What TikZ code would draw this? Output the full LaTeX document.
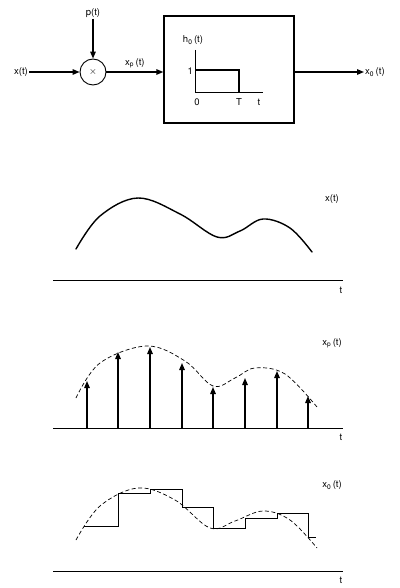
\documentclass[tikz,border=0pt]{standalone}
\usepackage{fontspec}
\setmainfont{TeX Gyre Heros}
\usepackage{tikz}
\usetikzlibrary{positioning, arrows.meta}

\begin{document}
\begin{tikzpicture}[
    x=1pt, y=-1pt,
    >={Triangle[length=7pt, width=5.5pt]},
    lbl/.style={font=\fontsize{9.5}{11}\selectfont, inner sep=1pt},
    sig/.style={->, line width=1.3pt},
    wave/.style={line width=1.4pt, line cap=round},
    guide/.style={dashed, dash pattern=on 4pt off 2.5pt, line width=0.7pt},
    axis/.style={line width=0.6pt},
    sample/.style={->, line width=1.4pt},
    hold/.style={line width=1pt},
]
\useasboundingbox (0,0) rectangle (399,588);

% block diagram
\node[lbl] (xin) at (21,72) {x(t)};
\node[draw, circle, line width=0.9pt, minimum size=26pt, inner sep=0pt] (mult) at (93,72) {$\times$};
\node[lbl] (pin) at (93,13) {p(t)};
\node[draw, line width=1.3pt, minimum width=130pt, minimum height=107pt] (zoh) at (229,69.5) {};
\node[lbl, anchor=west] (xout) at (364,72) {x\textsubscript{0}\,(t)};

\draw[sig] (xin) -- (mult);
\draw[sig] (pin) -- (mult);
\draw[sig] (mult) -- (zoh.west |- mult) node[midway, above, lbl, yshift=2pt] {x\textsubscript{p}\,(t)};
\draw[sig] (zoh.east |- mult) -- (xout);

% impulse response inside the hold box
\coordinate (o) at (195,92);
\draw[axis] (195,50) -- (o) -- (263,92);
\draw[line width=1.3pt] (o |- 0,70) -- (239,70) -- (239,92);
\node[lbl] (hlbl) at (193,40) {h\textsubscript{0}\,(t)};
\node[lbl, anchor=east] (one) at (194,71) {1};
\node[lbl] (zero) at (197,102) {0};
\node[lbl] (tT) at (239,102) {T};
\node[lbl] (tt) at (259,102) {t};

% x(t)
\draw[axis] (53,280) -- (343,280);
\node[lbl] (t1) at (341,290) {t};
\node[lbl] (x1) at (332,199) {x(t)};
\draw[wave] plot[smooth, tension=0.6] coordinates {(76,249) (100,216) (138,198) (180,214) (217,237) (240,231) (263,219) (290,228) (312,252)};

% x_p(t)
\draw[axis] (53,428) -- (343,428);
\node[lbl] (t2) at (341,437) {t};
\node[lbl] (x2) at (332,343) {x\textsubscript{p}\,(t)};
\draw[guide] plot[smooth, tension=0.6] coordinates {(76,398) (100,363) (147,346) (185,361) (213,386) (235,378) (255,368) (285,374) (317,407)};
\foreach \xs/\ys in {87/381, 118/352, 150/347, 182/363, 213/387, 245/378, 277/371, 308/396}
    \draw[sample] (\xs,428) -- (\xs,\ys);

% x_0(t)
\draw[axis] (53,571) -- (343,571);
\node[lbl] (t3) at (341,580) {t};
\node[lbl] (x3) at (332,485) {x\textsubscript{0}\,(t)};
\draw[guide] plot[smooth, tension=0.6] coordinates {(76,540) (100,506) (138,488) (175,500) (210,528) (235,521) (263,511) (290,520) (317,548)};
\draw[hold] (84,526) -- (118,526) -- (118,493) -- (150,493) -- (150,489) -- (182,489)
    -- (182,507) -- (213,507) -- (213,528) -- (245,528) -- (245,518) -- (277,518)
    -- (277,513) -- (308,513) -- (308,537) -- (316,537);

\end{tikzpicture}
\end{document}
